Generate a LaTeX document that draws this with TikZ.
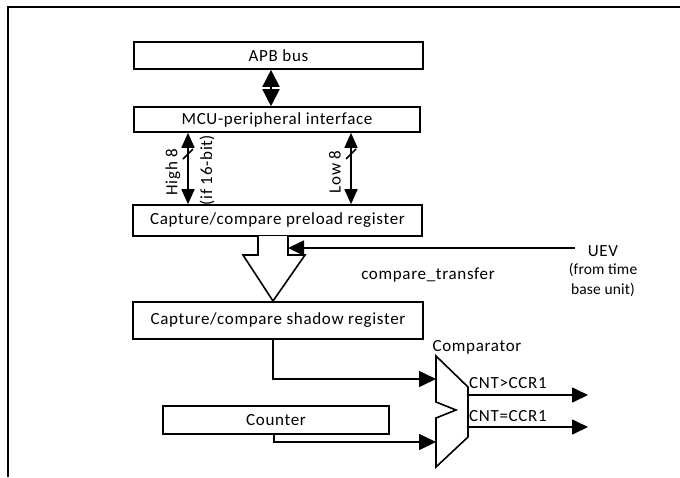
\documentclass[tikz,border=0pt]{standalone}
\usepackage{fontspec}
\setmainfont{Carlito}
\newfontfamily\spaced{Carlito}[LetterSpace=4]
\newfontfamily\plainf{Carlito}[LetterSpace=1]
\usetikzlibrary{arrows.meta,calc}
\begin{document}
\begin{tikzpicture}[x=1pt,y=-1pt,
  ln/.style={line width=1.6pt},
  box/.style={draw,line width=1.6pt,fill=white,inner sep=0pt,font=\fontsize{17}{19}\spaced},
  lbl/.style={inner sep=0pt,font=\fontsize{17}{19}\spaced},
  sml/.style={inner sep=0pt,font=\fontsize{15.5}{20}\plainf,align=center},
  big/.style={-{Triangle[length=17pt,width=16pt]}},
  dblbig/.style={{Triangle[length=17pt,width=17pt]}-{Triangle[length=17pt,width=17pt]}},
  dblmid/.style={{Triangle[length=15pt,width=13pt]}-{Triangle[length=15pt,width=13pt]}},
  sarr/.style={-{Triangle[length=16pt,width=15pt]}}]
\useasboundingbox (0,0) rectangle (680,477);
% frame
\draw[line width=2pt] (8,477) -- (8,7) -- (680,7);
% boxes
\node[box,minimum width=289pt,minimum height=27pt] (apb) at (278.5,55.5) {APB bus};
\node[box,minimum width=286pt,minimum height=25pt] (mcu) at (277,119.5) {MCU-peripheral interface};
% labels on data lines
\node[lbl,rotate=90] (hi) at (173,172) {High 8};
\node[lbl,rotate=90] (if16) at (207,170) {(if 16-bit)};
\node[lbl,rotate=90] (lo) at (335,172) {Low 8};
\node[box,minimum width=289pt,minimum height=31pt] (pre) at (277.5,220.5) {Capture/compare preload register};
\node[box,minimum width=290pt,minimum height=37pt] (sh) at (278,320.5) {Capture/compare shadow register};
\node[box,minimum width=226pt,minimum height=28pt] (cnt) at (276,420) {Counter};
% APB <-> MCU
\draw[ln,dblbig] (apb.south -| 271,0) -- (mcu.north -| 271,0);
% High / Low 8
\draw[ln,dblmid] (mcu.south -| 188,0) -- (pre.north -| 188,0);
\draw[ln,dblmid] (mcu.south -| 351,0) -- (pre.north -| 351,0);
\draw[ln] (183,159) -- (193,149);
\draw[ln] (346,159) -- (356,149);
% hollow transfer arrow
\coordinate (stL) at (258,236);
\coordinate (stR) at (288,236);
\coordinate (tip) at (273,301);
\draw[ln,fill=white] (stL) -- (258,255) -- (243,255) -- (tip) -- (305,255) -- (288,255) -- (stR);
% UEV
\node[lbl] (uev) at (603,251) {UEV};
\node[sml] (uevn) at (603,280) {(from time\\base unit)};
\coordinate (uevs) at (575,248);
\coordinate (stin) at (288,248);
\draw[ln,sarr] (uevs) -- (stin);
\node[lbl] (ct) at (428,275) {compare\_transfer};
% comparator
\coordinate (c1) at (436,356);
\coordinate (c2) at (468,387);
\coordinate (c3) at (468,437);
\coordinate (c4) at (436,467);
\draw[ln,line join=miter] (c1) -- (c2) -- (c3) -- (c4) -- (436,418) -- (456,410) -- (436,402) -- cycle;
\node[lbl] (cmpl) at (477,347) {Comparator};
\coordinate (in1) at (436,379);
\coordinate (in2) at (436,442);
\draw[ln,big] (sh.south -| 273,0) |- (in1);
\draw[ln,big] (cnt.south -| 274,0) |- (in2);
\coordinate (o1s) at (468,395);
\coordinate (o2s) at (468,427);
\coordinate (o1) at (588,395);
\coordinate (o2) at (588,427);
\draw[ln,sarr] (o1s) -- (o1);
\draw[ln,sarr] (o2s) -- (o2);
\node[lbl,anchor=west] (gt) at (469,383) {CNT>CCR1};
\node[lbl,anchor=west] (eq) at (469,416) {CNT=CCR1};
\end{tikzpicture}
\end{document}
